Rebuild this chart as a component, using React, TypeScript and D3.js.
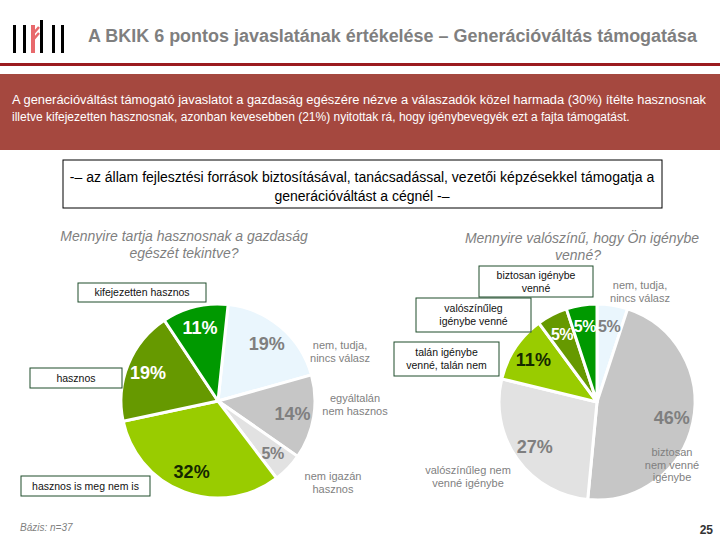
import React from 'react'
import * as d3 from 'd3'

// left pie: "Mennyire tartja hasznosnak a gazdaság egészét tekintve?"
const usefulCategories = [
  'nem, tudja, nincs válasz',
  'egyáltalán nem hasznos',
  'nem igazán hasznos',
  'hasznos is meg nem is',
  'hasznos',
  'kifejezetten hasznos'
]
const usefulValues = [19, 14, 5, 32, 19, 11]

// right pie: "Mennyire valószínű, hogy Ön igénybe venné?"
const likelyCategories = [
  'nem, tudja, nincs válasz',
  'biztosan nem venné igénybe',
  'valószínűleg nem venné igénybe',
  'talán igénybe venné, talán nem',
  'valószínűleg igénybe venné',
  'biztosan igénybe venné'
]
const likelyValues = [5, 46, 27, 11, 5, 5]

const sliceColors = ['#eaf6fd', '#c6c6c6', '#e2e2e2', '#99cc00', '#669900', '#009900']
const pctColors = ['#7f7f7f', '#7f7f7f', '#7f7f7f', '#142800', '#ffffff', '#ffffff']

const TITLE = 'A BKIK 6 pontos javaslatának értékelése – Generációváltás támogatása'
const SUMMARY = [
  'A generációváltást támogató javaslatot a gazdaság egészére nézve a válaszadók közel harmada (30%) ítélte hasznosnak',
  'illetve kifejezetten hasznosnak, azonban kevesebben (21%) nyitottak rá, hogy igénybevegyék ezt a fajta támogatást.'
]
const STATEMENT = [
  '-– az állam fejlesztési források biztosításával, tanácsadással, vezetői képzésekkel támogatja a',
  'generációváltást a cégnél -–'
]

const FONT = '"Liberation Sans", Arial, sans-serif'
const GREY = '#7f7f7f'

// annotation layout (plain text labels and boxed labels around the pies)
const leftNotes = [
  {lines: ['nem, tudja,', 'nincs válasz'], x: 340, y: 349},
  {lines: ['egyáltalán', 'nem hasznos'], x: 355, y: 402},
  {lines: ['nem igazán', 'hasznos'], x: 333, y: 480}
]
const leftBoxes = [
  {lines: ['kifejezetten hasznos'], x: 78, y: 283, w: 128, h: 19},
  {lines: ['hasznos'], x: 30, y: 368, w: 92, h: 20},
  {lines: ['hasznos is meg nem is'], x: 21, y: 476, w: 129, h: 20}
]
const rightNotes = [
  {lines: ['nem, tudja,', 'nincs válasz'], x: 640, y: 289},
  {lines: ['biztosan', 'nem venné', 'igénybe'], x: 672, y: 456},
  {lines: ['valószínűleg nem', 'venné igénybe'], x: 468, y: 474}
]
const rightBoxes = [
  {lines: ['biztosan igénybe', 'venné'], x: 479, y: 266, w: 114, h: 31},
  {lines: ['valószínűleg', 'igénybe venné'], x: 416, y: 298, w: 115, h: 34},
  {lines: ['talán igénybe', 'venné, talán nem'], x: 394, y: 342, w: 105, h: 34}
]

type Note = {lines: string[]; x: number; y: number; w?: number; h?: number}

function Pie({values, cx, cy, r, rotate}: {values: number[]; cx: number; cy: number; r: number; rotate: number}) {
  const pie = d3
    .pie<number>()
    .sort(null)
    .startAngle(rotate)
    .endAngle(rotate + Math.PI * 2)
    .value(d => d)
  const arc = d3.arc<d3.PieArcDatum<number>>().innerRadius(0).outerRadius(r)
  const labelArc = d3
    .arc<d3.PieArcDatum<number>>()
    .innerRadius(r * 0.78)
    .outerRadius(r * 0.78)
  const slices = pie(values)
  return (
    <g transform={`translate(${cx},${cy})`}>
      {slices.map((s, i) => (
        <path key={'p' + i} d={arc(s) || ''} fill={sliceColors[i]} stroke="#fff" strokeWidth={3} strokeLinejoin="round" />
      ))}
      {slices.map((s, i) => {
        const [x, y] = labelArc.centroid(s)
        return (
          <text
            key={'t' + i}
            x={x}
            y={y}
            dy="0.36em"
            textAnchor="middle"
            fontFamily={FONT}
            fontWeight="bold"
            fontSize={s.data <= 5 ? 16 : 18}
            letterSpacing={s.data <= 5 ? -0.5 : 0}
            fill={pctColors[i]}>
            {s.data}%
          </text>
        )
      })}
    </g>
  )
}

function Notes({items}: {items: Note[]}) {
  return (
    <g>
      {items.map((n, i) =>
        n.lines.map((l, j) => (
          <text
            key={i + '-' + j}
            x={n.x}
            y={n.y + j * 12.5}
            textAnchor="middle"
            fontFamily={FONT}
            fontSize={11}
            fill={GREY}>
            {l}
          </text>
        ))
      )}
    </g>
  )
}

function Boxes({items}: {items: Note[]}) {
  return (
    <g>
      {items.map((b, i) => {
        const lh = 13
        const top = b.y + (b.h! - lh * b.lines.length) / 2
        return (
          <g key={i}>
            <rect x={b.x} y={b.y} width={b.w} height={b.h} fill="#fff" stroke="#1e4d2b" strokeWidth={1} />
            {b.lines.map((l, j) => (
              <text
                key={j}
                x={b.x + b.w! / 2}
                y={top + lh * j + 10}
                textAnchor="middle"
                fontFamily={FONT}
                fontSize={10.5}
                fill="#111">
                {l}
              </text>
            ))}
          </g>
        )
      })}
    </g>
  )
}

function Logo() {
  const bars = [13, 23, 40, 52, 61]
  return (
    <g>
      {bars.map((x, i) => (
        <rect key={i} x={x} y={i === 2 ? 20 : 25} width={3} height={i === 2 ? 33 : 28} fill="#000" />
      ))}
      <rect x={31} y={25} width={4} height={28} fill="#e8696c" />
      <path d="M33,34 L39,27 M33,40 L39,33" stroke="#e8696c" strokeWidth={2.5} fill="none" />
    </g>
  )
}

export default function App() {
  return (
    <svg
      width={720}
      height={540}
      style={{position: 'absolute', left: 0, top: 0, background: '#fff'}}
      fontFamily={FONT}>
      <Logo />
      <text x={88} y={42} fontFamily={FONT} fontWeight="bold" fontSize={18} fill={GREY} textLength={609} lengthAdjust="spacingAndGlyphs">
        {TITLE}
      </text>
      <rect x={0} y={63} width={720} height={3} fill="#9b1b1f" />
      <rect x={0} y={74} width={720} height={76} fill="#a5483f" />
      <text x={12} y={104} fontSize={12} fill="#fff" textLength={694} lengthAdjust="spacingAndGlyphs">
        {SUMMARY[0]}
      </text>
      <text x={12} y={121} fontSize={12} fill="#fff">
        {SUMMARY[1]}
      </text>

      <rect x={63} y={160} width={599} height={48} fill="#fff" stroke="#000" strokeWidth={1} />
      {STATEMENT.map((l, i) => (
        <text key={i} x={362} y={182 + i * 19} textAnchor="middle" fontSize={14} fill="#000">
          {l}
        </text>
      ))}

      <g fontStyle="italic" fontSize={14} fill={GREY} textAnchor="middle">
        <text x={184} y={241}>Mennyire tartja hasznosnak a gazdaság</text>
        <text x={184} y={258}>egészét tekintve?</text>
        <text x={582} y={243}>Mennyire valószínű, hogy Ön igénybe</text>
        <text x={578} y={260}>venné?</text>
      </g>

      <Pie values={usefulValues} cx={218} cy={401} r={97} rotate={(6 * Math.PI) / 180} />
      <Pie values={likelyValues} cx={597} cy={402} r={98} rotate={0} />

      <Notes items={leftNotes} />
      <Boxes items={leftBoxes} />
      <Notes items={rightNotes} />
      <Boxes items={rightBoxes} />

      <text x={20} y={531} fontStyle="italic" fontSize={10} fill={GREY}>
        Bázis: n=37
      </text>
      <text x={713} y={534} textAnchor="end" fontWeight="bold" fontSize={12} fill="#333">
        25
      </text>
    </svg>
  )
}
